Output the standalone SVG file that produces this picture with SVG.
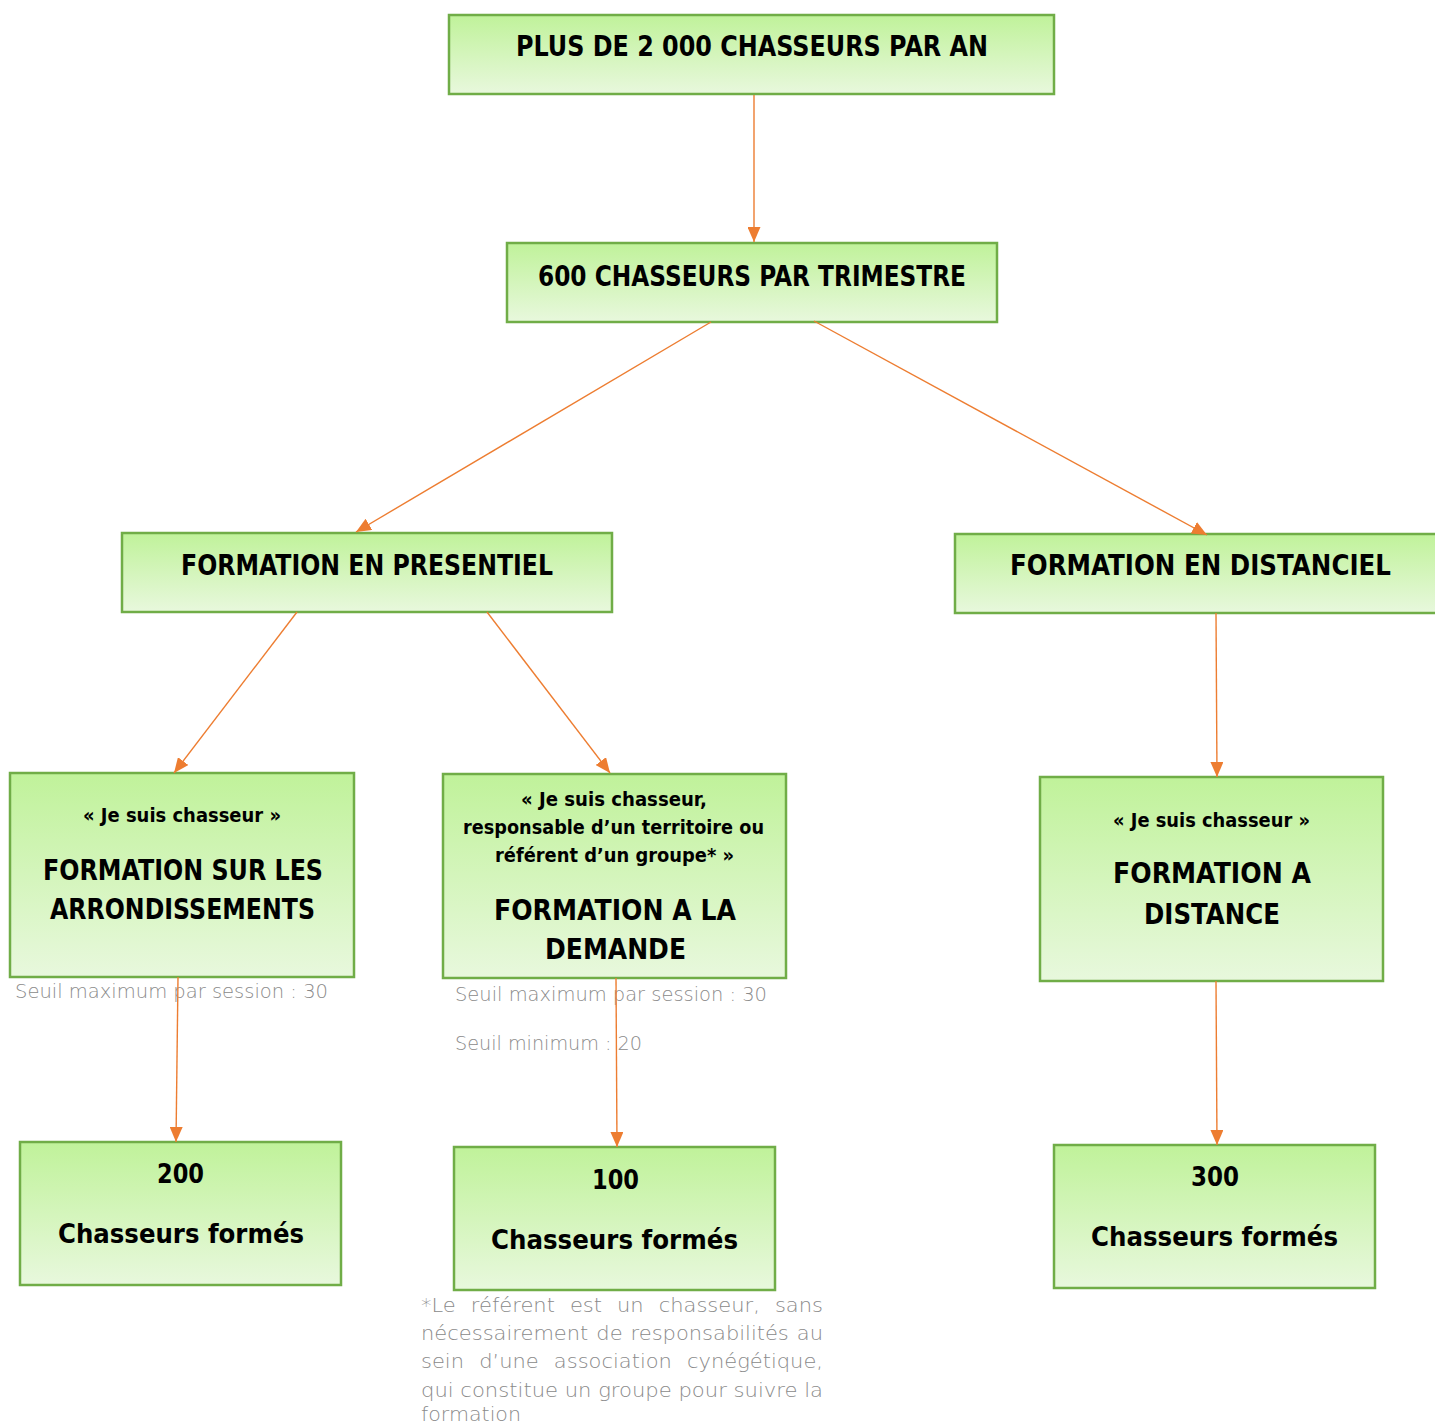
<svg xmlns="http://www.w3.org/2000/svg" width="1435" height="1425" viewBox="0 0 1435 1425">
<defs>
<linearGradient id="g" x1="0" y1="0" x2="0" y2="1">
<stop offset="0" stop-color="#c0f29a"/>
<stop offset="1" stop-color="#e8f8dd"/>
</linearGradient>
<marker id="ah" markerUnits="userSpaceOnUse" markerWidth="15" markerHeight="13" refX="15" refY="6.5" orient="auto">
<path d="M0,0 L15,6.5 L0,13 z" fill="#ed7d31"/>
</marker>
<style>
.box{fill:url(#g);stroke:#70ad47;stroke-width:2.5}
.t{font-family:"DejaVu Sans","Liberation Sans",sans-serif;font-weight:bold;fill:#000}
.h{font-size:28px}
.s{font-size:19px}
.m{font-size:27px}
.n{font-family:"DejaVu Sans","Liberation Sans",sans-serif;font-weight:200;font-size:19px;fill:#8a8a8a}
.c{stroke:#ed7d31;stroke-width:1.4;fill:none;marker-end:url(#ah)}
</style>
</defs>
<rect width="1435" height="1425" fill="#fff"/>

<g id="n-annee">
<rect class="box" x="449" y="15" width="605" height="79"/>
<text class="t h" x="516" y="56" textLength="472" lengthAdjust="spacingAndGlyphs">PLUS DE 2 000 CHASSEURS PAR AN</text>
</g>

<g id="n-trimestre">
<rect class="box" x="507" y="243" width="490" height="79"/>
<text class="t h" x="538" y="286" textLength="428" lengthAdjust="spacingAndGlyphs">600 CHASSEURS PAR TRIMESTRE</text>
</g>

<g id="n-presentiel">
<rect class="box" x="122" y="533" width="490" height="79"/>
<text class="t h" x="181" y="575" textLength="372" lengthAdjust="spacingAndGlyphs">FORMATION EN PRESENTIEL</text>
</g>

<g id="n-distanciel">
<rect class="box" x="955" y="534" width="486" height="79"/>
<text class="t h" x="1010" y="575" textLength="381" lengthAdjust="spacingAndGlyphs">FORMATION EN DISTANCIEL</text>
</g>

<g id="n-arrondissements">
<rect class="box" x="10" y="773" width="344" height="204"/>
<text class="t s" x="83" y="822" textLength="198" lengthAdjust="spacingAndGlyphs">« Je suis chasseur »</text>
<text class="t h" x="43" y="880" textLength="280" lengthAdjust="spacingAndGlyphs">FORMATION SUR LES</text>
<text class="t h" x="50" y="919" textLength="265" lengthAdjust="spacingAndGlyphs">ARRONDISSEMENTS</text>
</g>
<text class="n" x="15" y="998" textLength="313" lengthAdjust="spacingAndGlyphs">Seuil maximum par session : 30</text>

<g id="n-demande">
<rect class="box" x="443" y="774" width="343" height="204"/>
<text class="t s" x="521" y="806" textLength="186" lengthAdjust="spacingAndGlyphs">« Je suis chasseur,</text>
<text class="t s" x="463" y="834" textLength="301" lengthAdjust="spacingAndGlyphs">responsable d’un territoire ou</text>
<text class="t s" x="495" y="862" textLength="239" lengthAdjust="spacingAndGlyphs">référent d’un groupe* »</text>
<text class="t h" x="494" y="920" textLength="242" lengthAdjust="spacingAndGlyphs">FORMATION A LA</text>
<text class="t h" x="545" y="959" textLength="141" lengthAdjust="spacingAndGlyphs">DEMANDE</text>
</g>
<text class="n" x="455" y="1001" textLength="312" lengthAdjust="spacingAndGlyphs">Seuil maximum par session : 30</text>
<text class="n" x="455" y="1050" textLength="187" lengthAdjust="spacingAndGlyphs">Seuil minimum : 20</text>

<g id="n-distance">
<rect class="box" x="1040" y="777" width="343" height="204"/>
<text class="t s" x="1113" y="827" textLength="197" lengthAdjust="spacingAndGlyphs">« Je suis chasseur »</text>
<text class="t h" x="1113" y="883" textLength="198" lengthAdjust="spacingAndGlyphs">FORMATION A</text>
<text class="t h" x="1144" y="924" textLength="136" lengthAdjust="spacingAndGlyphs">DISTANCE</text>
</g>

<g id="n-200">
<rect class="box" x="20" y="1142" width="321" height="143"/>
<text class="t m" x="157" y="1183" textLength="47" lengthAdjust="spacingAndGlyphs">200</text>
<text class="t m" x="58" y="1243" textLength="246" lengthAdjust="spacingAndGlyphs">Chasseurs formés</text>
</g>

<g id="n-100">
<rect class="box" x="454" y="1147" width="321" height="143"/>
<text class="t m" x="592" y="1189" textLength="47" lengthAdjust="spacingAndGlyphs">100</text>
<text class="t m" x="491" y="1249" textLength="247" lengthAdjust="spacingAndGlyphs">Chasseurs formés</text>
</g>

<g id="n-300">
<rect class="box" x="1054" y="1145" width="321" height="143"/>
<text class="t m" x="1191" y="1186" textLength="48" lengthAdjust="spacingAndGlyphs">300</text>
<text class="t m" x="1091" y="1246" textLength="247" lengthAdjust="spacingAndGlyphs">Chasseurs formés</text>
</g>

<g id="footnote">
<text class="n" x="421" y="1312" word-spacing="7.5" textLength="402" lengthAdjust="spacingAndGlyphs">*Le référent est un chasseur, sans</text>
<text class="n" x="421" y="1340" word-spacing="1.2" textLength="402" lengthAdjust="spacingAndGlyphs">nécessairement de responsabilités au</text>
<text class="n" x="421" y="1368" word-spacing="7.7" textLength="402" lengthAdjust="spacingAndGlyphs">sein d’une association cynégétique,</text>
<text class="n" x="421" y="1397" textLength="402" lengthAdjust="spacingAndGlyphs">qui constitue un groupe pour suivre la</text>
<text class="n" x="421" y="1421" textLength="100" lengthAdjust="spacingAndGlyphs">formation</text>
</g>

<g id="connectors">
<line class="c" x1="754" y1="95" x2="754" y2="242"/>
<line class="c" x1="711" y1="322" x2="356" y2="532"/>
<line class="c" x1="814" y1="321" x2="1207" y2="535"/>
<line class="c" x1="297" y1="612" x2="174" y2="773"/>
<line class="c" x1="487" y1="612" x2="610" y2="773"/>
<line class="c" x1="1216" y1="613" x2="1217" y2="777"/>
<line class="c" x1="178" y1="977" x2="176" y2="1142"/>
<line class="c" x1="616" y1="978" x2="617" y2="1147"/>
<line class="c" x1="1216" y1="981" x2="1217" y2="1145"/>
</g>
</svg>
